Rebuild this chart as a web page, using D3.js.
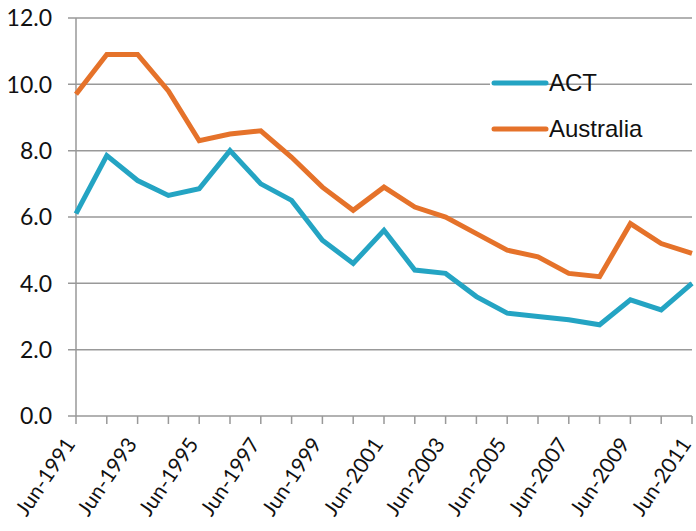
<!DOCTYPE html>
<html><head><meta charset="utf-8">
<script src="https://cdn.jsdelivr.net/npm/d3@7/dist/d3.min.js"></script>
<style>body{margin:0;background:#fff}</style>
</head><body>
<svg id="c" width="696" height="531"></svg>
<script>
const years = d3.range(1991, 2012);
const categories = years.map(y => "Jun-" + y);
const act = [6.1,7.85,7.1,6.65,6.85,8.0,7.0,6.5,5.3,4.6,5.6,4.4,4.3,3.6,3.1,3.0,2.9,2.75,3.5,3.2,4.0];
const australia = [9.7,10.9,10.9,9.8,8.3,8.5,8.6,7.8,6.9,6.2,6.9,6.3,6.0,5.5,5.0,4.8,4.3,4.2,5.8,5.2,4.9];
const yTicks = [0,2,4,6,8,10,12];
const seriesNames = ["ACT","Australia"];
const colors = ["#24a4c3","#e5722a"];

const svg = d3.select("#c");
const x0 = 76, x1 = 692, yTop = 18, yBot = 416;
const x = d3.scalePoint().domain(categories).range([x0, x1]);
const y = d3.scaleLinear().domain([0,12]).range([yBot, yTop]);

svg.append("g").selectAll("line").data(yTicks).join("line")
  .attr("x1", 68).attr("x2", x1).attr("y1", d=>y(d)).attr("y2", d=>y(d))
  .attr("stroke", "#999").attr("stroke-width", 1.5);

svg.append("line").attr("x1", x0).attr("x2", x0).attr("y1", yTop).attr("y2", yBot)
  .attr("stroke", "#999").attr("stroke-width", 1.5);

svg.append("g").selectAll("line").data(categories).join("line")
  .attr("x1", d=>x(d)).attr("x2", d=>x(d)).attr("y1", yBot).attr("y2", yBot+8)
  .attr("stroke", "#999").attr("stroke-width", 1.5);

svg.append("g").selectAll("text").data(yTicks).join("text")
  .attr("x", 52).attr("y", d=>y(d)).attr("dy", "0.36em")
  .attr("text-anchor", "end").attr("font-family", "Lato, 'Open Sans', sans-serif")
  .attr("font-size", 23).attr("fill", "#111").text(d=>d.toFixed(1));

svg.append("g").selectAll("text").data(categories.filter((d,i)=>i%2===0)).join("text")
  .attr("transform", d=>`translate(${x(d)-6},${yBot+24}) rotate(-56)`)
  .attr("text-anchor", "end").attr("dy", "0.35em")
  .attr("font-family", "Lato, 'Open Sans', sans-serif")
  .attr("font-size", 21).attr("fill", "#111").text(d=>d);

const line = d3.line().x((d,i)=>x(categories[i])).y(d=>y(d));
[act, australia].forEach((s,k)=>{
  svg.append("path").datum(s).attr("d", line).attr("fill","none")
    .attr("stroke", colors[k]).attr("stroke-width", 5).attr("stroke-linejoin","miter");
});

const leg = svg.append("g");
seriesNames.forEach((n,k)=>{
  const ly = 83 + k*46;
  leg.append("rect").attr("x", 490).attr("y", ly-4).attr("width", 58).attr("height", 8)
    .attr("fill", "#fff");
  leg.append("line").attr("x1", 494).attr("x2", 546).attr("y1", ly).attr("y2", ly)
    .attr("stroke", colors[k]).attr("stroke-width", 5).attr("stroke-linecap","round");
  leg.append("text").attr("x", 549).attr("y", ly).attr("dy","0.35em")
    .attr("font-family", "'Liberation Sans', Arial, sans-serif").attr("font-size", 24)
    .attr("fill","#111").text(n);
});
</script>
</body></html>
